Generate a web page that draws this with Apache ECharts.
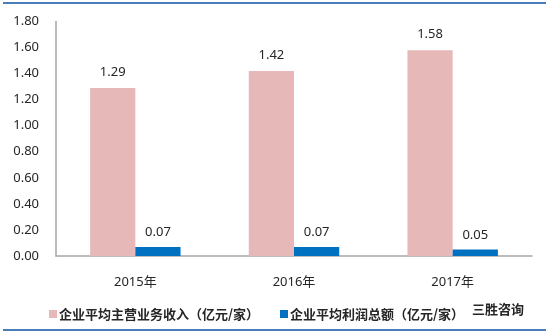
<!DOCTYPE html>
<html>
<head>
<meta charset="utf-8">
<script src="https://cdn.jsdelivr.net/npm/echarts@6/dist/echarts.min.js"></script>
<style>
html,body{margin:0;padding:0;background:#fff;}
#c{width:550px;height:335px;}
</style>
</head>
<body>
<div id="c"></div>
<script>
const categories = ['2015年', '2016年', '2017年'];
const revenueName = '企业平均主营业务收入（亿元/家）';
const profitName = '企业平均利润总额（亿元/家）';
const revenue = [1.29, 1.42, 1.58];
const profit = [0.07, 0.07, 0.05];
const yMin = 0, yMax = 1.8, yInterval = 0.2;
const watermark = '三胜咨询';

const chart = echarts.init(document.getElementById('c'));
const font = '"Noto Sans", "Noto Sans CJK SC", sans-serif';
const legendText = {color: '#262626', fontSize: 13, fontWeight: 'bold', fontFamily: '"Noto Sans CJK SC", sans-serif', padding: [0,0,0,-3]};
chart.setOption({
  animation: false,
  backgroundColor: '#fff',
  grid: {left: 56, right: 18, top: 21.5, bottom: 79},
  xAxis: {
    type: 'category',
    data: categories,
    axisLine: {lineStyle: {color: '#A6A6A6', width: 1.5}},
    axisTick: {show: false},
    axisLabel: {color: '#262626', fontSize: 13, fontFamily: font, margin: 20}
  },
  yAxis: {
    type: 'value',
    min: yMin, max: yMax, interval: yInterval,
    axisLine: {show: true, lineStyle: {color: '#A6A6A6', width: 1.5}},
    axisTick: {show: false},
    splitLine: {show: false},
    axisLabel: {color: '#262626', fontSize: 13, fontFamily: font, margin: 17,
      formatter: v => v.toFixed(2)}
  },
  legend: [
    {left: 44, top: 302.5, padding: 5, itemWidth: 8, itemHeight: 8, icon: 'rect', textStyle: legendText, data: [revenueName]},
    {left: 275, top: 302.5, padding: 5, itemWidth: 8, itemHeight: 8, icon: 'rect', textStyle: legendText, data: [profitName]}
  ],
  graphic: [
    {type: 'rect', shape: {x: 3, y: 2, width: 543, height: 2}, style: {fill: '#4A7EBB'}},
    {type: 'rect', shape: {x: 3, y: 329, width: 543, height: 2}, style: {fill: '#4A7EBB'}},
    {type: 'text', left: 472, top: 303, style: {text: watermark, fill: '#262626', font: 'bold 13px "Noto Sans CJK SC", sans-serif'}}
  ],
  series: [
    {
      name: revenueName, type: 'bar', data: revenue,
      barWidth: '28.5%', barGap: '0%',
      itemStyle: {color: '#E6B9B8'},
      label: {show: true, position: 'top', distance: 9, color: '#262626', fontSize: 13, fontFamily: font,
        formatter: p => p.value.toFixed(2)}
    },
    {
      name: profitName, type: 'bar', data: profit,
      barWidth: '28.5%', barGap: '0%',
      itemStyle: {color: '#0070C0'},
      label: {show: true, position: 'top', distance: 8, color: '#262626', fontSize: 13, fontFamily: font,
        formatter: p => p.value.toFixed(2)}
    }
  ]
});
</script>
</body>
</html>
